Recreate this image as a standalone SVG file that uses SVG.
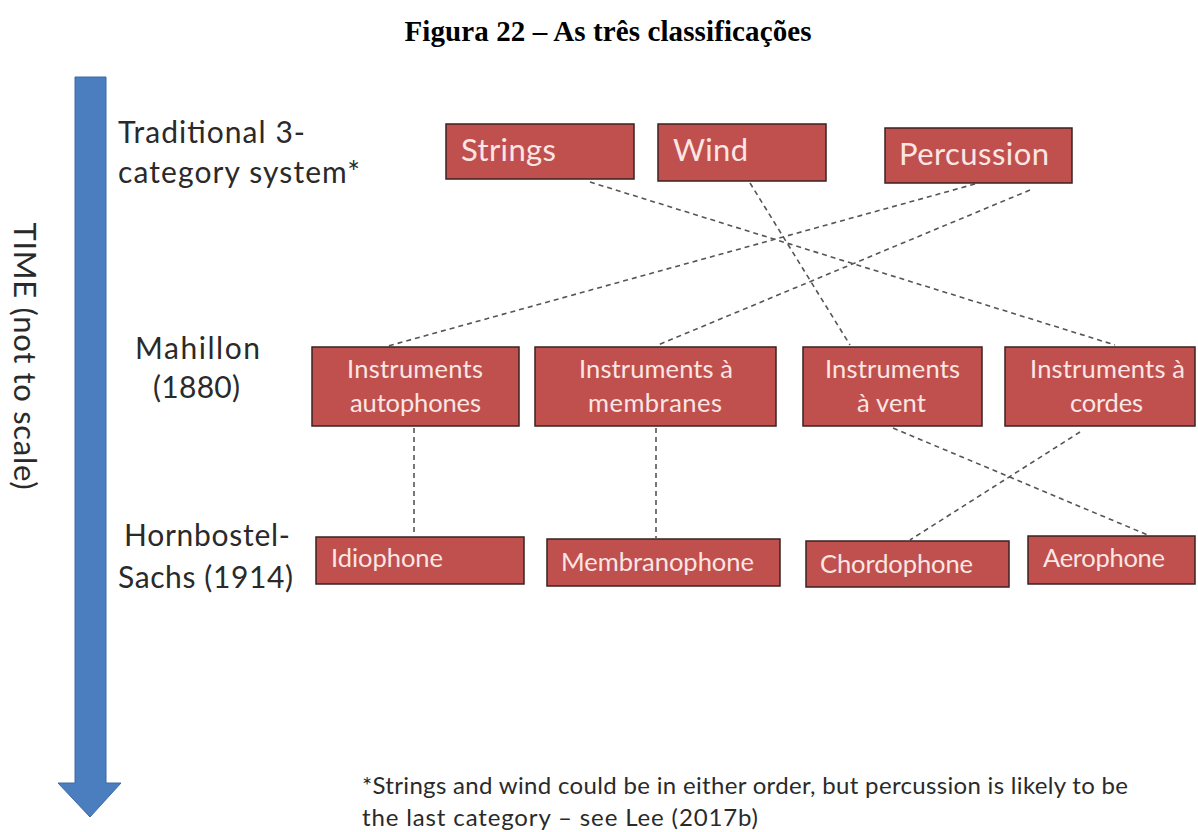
<svg xmlns="http://www.w3.org/2000/svg" width="1198" height="832" viewBox="0 0 1198 832">
<style>
.box{fill:#c0504d;stroke:#3a2222;stroke-width:1.5}
.bt{font-family:Lato,"Open Sans",sans-serif;fill:#fbe6e4}
.big{font-size:31px}
.mid{font-size:25.5px}
.lbl{font-family:Lato,"Open Sans",sans-serif;font-size:30px;fill:#2a2a2a}
.con{stroke:#555;stroke-width:1.6;stroke-dasharray:5,4;fill:none}
</style>
<rect width="1198" height="832" fill="#fff"/>
<text x="608" y="41" text-anchor="middle" font-family="Liberation Serif,serif" font-weight="bold" font-size="29" fill="#000" textLength="407">Figura 22 – As três classificações</text>
<g id="time-arrow">
<path d="M75,77 H106 V783 H121 L90,817 L58,783 H75 Z" fill="#4a7ebf" stroke="#3d6aa3" stroke-width="1"/>
<text transform="translate(14,356) rotate(90)" text-anchor="middle" font-family="Lato,'Open Sans',sans-serif" font-size="31" fill="#2a2a2a" textLength="267">TIME (not to scale)</text>
</g>
<g id="row-labels">
<text class="lbl" x="118" y="143" textLength="187">Traditional 3-</text>
<text class="lbl" x="118" y="183" textLength="242">category system*</text>
<text class="lbl" x="135" y="359" textLength="125">Mahillon</text>
<text class="lbl" x="153" y="398" textLength="87">(1880)</text>
<text class="lbl" x="124" y="546" textLength="166">Hornbostel-</text>
<text class="lbl" x="118" y="588" textLength="175">Sachs (1914)</text>
</g>
<g id="connectors">
<line class="con" x1="590" y1="182" x2="1115" y2="345"/>
<line class="con" x1="750" y1="183" x2="850" y2="345"/>
<line class="con" x1="975" y1="184" x2="388" y2="346"/>
<line class="con" x1="1030" y1="190" x2="658" y2="345"/>
<line class="con" x1="414" y1="428" x2="414" y2="536"/>
<line class="con" x1="656" y1="428" x2="656" y2="538"/>
<line class="con" x1="893" y1="428" x2="1150" y2="536"/>
<line class="con" x1="1080" y1="432" x2="910" y2="540"/>
</g>
<g id="strings"><rect class="box" x="446" y="124" width="188" height="55"/><text class="bt big" x="461" y="161" textLength="95">Strings</text></g>
<g id="wind"><rect class="box" x="658" y="124" width="168" height="57"/><text class="bt big" x="673" y="161" textLength="75">Wind</text></g>
<g id="percussion"><rect class="box" x="885" y="128" width="187" height="55"/><text class="bt big" x="899" y="165" textLength="150">Percussion</text></g>
<g id="autophones"><rect class="box" x="312" y="347" width="207" height="79"/><text class="bt mid" x="347" y="378" textLength="136">Instruments</text><text class="bt mid" x="350" y="412" textLength="131">autophones</text></g>
<g id="membranes"><rect class="box" x="535" y="347" width="241" height="79"/><text class="bt mid" x="579" y="378" textLength="154">Instruments à</text><text class="bt mid" x="588" y="412" textLength="134">membranes</text></g>
<g id="vent"><rect class="box" x="803" y="347" width="179" height="79"/><text class="bt mid" x="825" y="378" textLength="135">Instruments</text><text class="bt mid" x="857" y="412" textLength="69">à vent</text></g>
<g id="cordes"><rect class="box" x="1005" y="347" width="190" height="79"/><text class="bt mid" x="1030" y="378" textLength="155">Instruments à</text><text class="bt mid" x="1070" y="412" textLength="73">cordes</text></g>
<g id="idiophone"><rect class="box" x="316" y="537" width="208" height="47"/><text class="bt mid" x="331" y="567" textLength="112">Idiophone</text></g>
<g id="membranophone"><rect class="box" x="547" y="539" width="233" height="47"/><text class="bt mid" x="561" y="571" textLength="193">Membranophone</text></g>
<g id="chordophone"><rect class="box" x="806" y="541" width="203" height="46"/><text class="bt mid" x="820" y="573" textLength="153">Chordophone</text></g>
<g id="aerophone"><rect class="box" x="1028" y="536" width="167" height="48"/><text class="bt mid" x="1043" y="567" textLength="122">Aerophone</text></g>
<g id="footnote">
<text font-family="Lato,'Open Sans',sans-serif" font-size="24" fill="#2a2a2a" x="362" y="794" textLength="766">*Strings and wind could be in either order, but percussion is likely to be</text>
<text font-family="Lato,'Open Sans',sans-serif" font-size="24" fill="#2a2a2a" x="362" y="826" textLength="396">the last category – see Lee (2017b)</text>
</g>
</svg>
